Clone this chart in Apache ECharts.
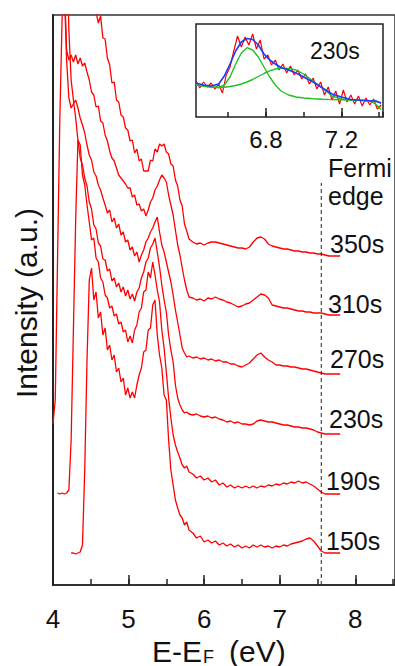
<!DOCTYPE html>
<html><head><meta charset="utf-8">
<script src="https://cdn.jsdelivr.net/npm/echarts@6/dist/echarts.min.js"></script>
<style>html,body{margin:0;padding:0;background:#fff}#c{width:395px;height:666px}</style>
</head><body><div id="c"></div>
<script>
// ---- main spectra (energy in eV, intensity in arbitrary units, curves offset) ----
const energy = [4.00,4.03,4.06,4.09,4.12,4.15,4.18,4.21,4.24,4.27,
4.30,4.33,4.36,4.39,4.42,4.45,4.48,4.51,4.54,4.57,
4.60,4.63,4.66,4.69,4.72,4.75,4.78,4.81,4.84,4.87,
4.90,4.93,4.96,4.99,5.02,5.05,5.08,5.11,5.14,5.17,
5.20,5.23,5.26,5.29,5.32,5.35,5.38,5.41,5.44,5.47,
5.50,5.53,5.56,5.59,5.62,5.65,5.68,5.71,5.74,5.77,
5.80,5.85,5.90,5.95,6.00,6.05,6.10,6.15,6.20,6.25,
6.30,6.35,6.40,6.45,6.50,6.55,6.60,6.65,6.70,6.75,
6.80,6.85,6.90,6.95,7.00,7.05,7.10,7.15,7.20,7.25,
7.30,7.35,7.40,7.45,7.50,7.55,7.60,7.65,7.70,7.75,
7.80];
const s150 = [null,null,null,null,null,null,null,null,32,32,
31,32,33,40,115,225,305,317,285,293,
267,273,250,257,235,240,225,230,213,217,
203,207,190,197,187,193,187,200,210,217,
233,235,255,257,280,285,250,230,217,190,
185,145,115,100,85,77,70,67,60,63,
55,52,47,49,43,45,42,44,40,42,
39,41,38,40,37,39,37,40,38,40,
38,39,37,39,38,40,39,41,42,43,
44,46,47,44,39,34,32,32,32,32,
32];
const s190 = [null,null,92,91,92,91,92,95,145,255,
365,445,440,410,400,380,363,345,347,327,
323,307,303,290,287,277,279,269,271,261,
263,253,255,243,249,242,255,260,273,277,
293,295,313,307,323,310,295,283,255,237,
213,187,167,150,140,133,127,120,117,119,
113,111,107,109,105,107,103,105,100,102,
98,100,97,99,97,99,97,99,97,99,
98,100,99,101,100,102,101,103,102,104,
102,103,101,99,96,93,91,91,91,91,
91];
const s230 = [161,185,325,465,565,645,650,555,505,485,
467,445,427,420,407,399,383,376,360,356,
342,339,326,325,314,316,304,307,298,302,
293,298,289,295,286,291,284,293,297,307,
313,323,327,337,341,347,333,318,300,285,
273,250,235,223,200,187,180,175,172,173,
171,170,171,169,168,169,167,168,166,165,
163,164,162,163,161,161,160,161,164,165,
164,163,163,162,161,160,160,159,158,158,
157,157,156,155,153,152,151,151,151,151,
151];
const s270 = [685,685,675,665,635,595,525,487,477,481,
485,477,467,460,452,440,430,425,413,409,
400,395,387,380,372,375,363,367,357,361,
350,353,343,345,335,338,329,333,323,330,
335,343,347,353,357,363,368,353,340,333,
323,313,303,290,275,263,250,237,232,228,
229,227,228,226,227,225,226,224,225,223,
223,221,221,219,218,220,222,226,230,232,
228,225,223,220,220,219,219,218,218,217,
216,216,215,214,213,212,211,211,211,211,
211];
const s310 = [705,705,695,685,665,605,535,525,530,523,
530,521,527,519,522,513,505,493,490,478,
479,464,462,450,444,434,427,424,417,410,
407,404,401,397,397,388,390,380,381,374,
376,369,375,383,387,395,399,405,410,407,
403,390,380,370,355,340,330,317,305,295,
288,287,285,286,284,287,286,288,286,285,
283,282,280,278,279,281,282,285,288,291,
290,287,280,279,278,277,277,276,275,274,
274,273,273,272,272,272,271,270,270,270,
270];
const s350 = [760,760,755,750,745,740,735,730,725,720,
712,705,698,690,680,665,650,630,605,573,
562,569,547,546,527,520,502,503,485,483,
470,468,457,455,444,445,432,436,424,426,
414,414,414,425,424,436,433,441,439,441,
433,431,421,419,405,399,385,379,361,354,
346,343,341,342,340,342,343,343,342,341,
340,339,338,337,337,336,338,343,347,348,
346,341,339,338,337,336,336,335,334,334,
333,333,332,332,331,331,330,329,329,329,
329];
const curveNames = ['350s','310s','270s','230s','190s','150s'];
const fermiEnergy = 7.55;
const fermiTop = 402;

// ---- inset: 230s peak fit ----
const insetEnergy = [6.43,6.45,6.47,6.49,6.51,6.53,6.55,6.57,6.59,6.61,
6.63,6.65,6.67,6.69,6.71,6.73,6.75,6.77,6.79,6.81,
6.83,6.85,6.87,6.89,6.91,6.93,6.95,6.97,6.99,7.01,
7.03,7.05,7.07,7.09,7.11,7.13,7.15,7.17,7.19,7.21,
7.23,7.25,7.27,7.29,7.31,7.33,7.35,7.37,7.39,7.41];
const insetRed = [36,29,35,30,34,28,33,24,42,50,
66,81,70,80,72,83,68,77,58,62,
52,57,47,53,44,51,42,47,38,43,
33,39,28,35,22,30,17,26,13,27,
15,22,13,21,11,19,12,18,8,12];
const fitEnergy = [6.43,6.47,6.51,6.55,6.58,6.61,6.64,6.67,6.70,6.73,6.76,6.79,6.82,6.85,6.88,6.92,6.96,7.00,7.05,7.10,7.15,7.20,7.25,7.30,7.35,7.38,7.41];
const fitBlue = [34,32,31,33,41,53,66,75,78.5,77.5,72,63,57,53,49.5,47,44,40,35,29,23,20,17.5,16.8,16.3,16,14];
const fitGreen1 = [32,31,30,29.5,32,40,53,64,69.3,67,60,50,40,32,26,22,20,19,18.3,17.7,17.4,17.2,17,16.8,16,13,7.5];
const fitGreen2 = [32,31,30,29.5,29.8,30.5,31.5,33,35,37.5,40.5,43.5,46.2,48,48.7,48.6,47,43,36,28.7,21,18,17,16.7,16.3,16,14];
const insetName = '230s';

const FONT = 'Liberation Sans, Arial, sans-serif';
const pairs = (xs, ys) => xs.map((x, i) => [x, ys[i]]);
const mainSeries = [s350, s310, s270, s230, s190, s150].map((ys, k) => ({
  type: 'line', name: curveNames[k], xAxisIndex: 0, yAxisIndex: 0,
  data: pairs(energy, ys), showSymbol: false, clip: true,
  lineStyle: { color: '#ff0000', width: 1.3 }, silent: true
}));
const insetLine = (xs, ys, color, w) => ({
  type: 'line', xAxisIndex: 2, yAxisIndex: 1, data: pairs(xs, ys), showSymbol: false,
  clip: true, lineStyle: { color: color, width: w }, silent: true, z: 3
});

const labelPos = [[330,244],[328,304],[330,359],[329,419],[326,481],[326,541]];
const texts = curveNames.map((t, k) => ({
  type: 'text', x: labelPos[k][0], y: labelPos[k][1],
  style: { text: t, font: '25px ' + FONT, fill: '#111', align: 'left', verticalAlign: 'middle' }
}));

const hiddenY = (g) => ({ type: 'value', gridIndex: g, min: 0, max: 1, show: false });
const tickStyle = { color: '#222', width: 1.5 };
const noSplit = { show: false };

const chart = echarts.init(document.getElementById('c'), null, { renderer: 'svg' });
chart.setOption({
  animation: false,
  backgroundColor: '#fff',
  grid: [
    { left: 53, top: 15, width: 344, height: 570, show: true, borderColor: '#333', borderWidth: 1.5 },
    { left: 196, top: 24, width: 187, height: 93, show: true, borderColor: '#222', borderWidth: 1.5, backgroundColor: '#fff' },
    { left: 228.1, top: 24, width: 154.9, height: 93, show: false },
    { left: 265.9, top: 24, width: 117.1, height: 93, show: false }
  ],
  xAxis: [
    { type: 'value', gridIndex: 0, position: 'bottom', min: 4, max: 8.526, interval: 1,
      axisLine: { show: true, onZero: false, lineStyle: { color: '#222', width: 1.5 } },
      axisTick: { show: true, inside: true, length: 10, lineStyle: tickStyle },
      axisLabel: { show: true, showMaxLabel: false, fontSize: 26, lineHeight: 26, fontFamily: FONT, color: '#111', margin: 21 },
      splitLine: noSplit },
    { type: 'value', gridIndex: 0, position: 'bottom', min: 4, max: 8.526, interval: 0.5,
      axisLine: { show: false },
      axisTick: { show: true, inside: true, length: 6, lineStyle: tickStyle },
      axisLabel: { show: false }, splitLine: noSplit },
    { type: 'value', gridIndex: 1, min: 6.43, max: 7.42, show: false },
    { type: 'value', gridIndex: 2, position: 'bottom', min: 6.6, max: 7.42, interval: 0.2,
      axisLine: { show: false },
      axisTick: { show: true, inside: true, length: 5, lineStyle: tickStyle },
      axisLabel: { show: false }, splitLine: noSplit },
    { type: 'value', gridIndex: 3, position: 'bottom', min: 6.8, max: 7.42, interval: 0.4,
      axisLine: { show: false },
      axisTick: { show: true, inside: true, length: 9, lineStyle: tickStyle },
      axisLabel: { show: true, showMaxLabel: false, fontSize: 24, fontFamily: FONT, color: '#111', margin: 10 },
      splitLine: noSplit }
  ],
  yAxis: [
    { type: 'value', gridIndex: 0, min: 0, max: 570,
      axisLine: { show: true, onZero: false, lineStyle: { color: '#222', width: 2 } },
      axisTick: { show: false }, axisLabel: { show: false }, splitLine: noSplit },
    { type: 'value', gridIndex: 1, min: 0, max: 93, show: false },
    hiddenY(2), hiddenY(3)
  ],
  series: mainSeries.concat([
    { type: 'line', xAxisIndex: 0, yAxisIndex: 0, data: [[fermiEnergy, 0], [fermiEnergy, fermiTop]],
      showSymbol: false, silent: true, lineStyle: { color: '#222', width: 1, type: [4, 3] } },
    insetLine(insetEnergy, insetRed, '#ff0000', 1.2),
    insetLine(fitEnergy, fitGreen1, '#22c022', 1.4),
    insetLine(fitEnergy, fitGreen2, '#22c022', 1.4),
    insetLine(fitEnergy, fitBlue, '#1a3cff', 1.6)
  ]),
  graphic: texts.concat([
    { type: 'text', x: 328, y: 168, style: { text: 'Fermi', font: '25px ' + FONT, fill: '#111', align: 'left', verticalAlign: 'middle' } },
    { type: 'text', x: 328, y: 196, style: { text: 'edge', font: '25px ' + FONT, fill: '#111', align: 'left', verticalAlign: 'middle' } },
    { type: 'text', x: 310, y: 51, z: 10, style: { text: insetName, font: '23px ' + FONT, fill: '#111', align: 'left', verticalAlign: 'middle' } },
    { type: 'text', x: 26, y: 303, rotation: Math.PI / 2, style: { text: 'Intensity (a.u.)', font: '30px ' + FONT, fill: '#111', align: 'center', verticalAlign: 'middle' } },
    { type: 'text', x: 152, y: 651, style: { text: 'E-E', font: '30px ' + FONT, fill: '#111', align: 'left', verticalAlign: 'middle' } },
    { type: 'text', x: 203, y: 657, style: { text: 'F', font: '18px ' + FONT, fill: '#111', align: 'left', verticalAlign: 'middle' } },
    { type: 'text', x: 229, y: 651, style: { text: '(eV)', font: '30px ' + FONT, fill: '#111', align: 'left', verticalAlign: 'middle' } }
  ])
});
</script></body></html>
